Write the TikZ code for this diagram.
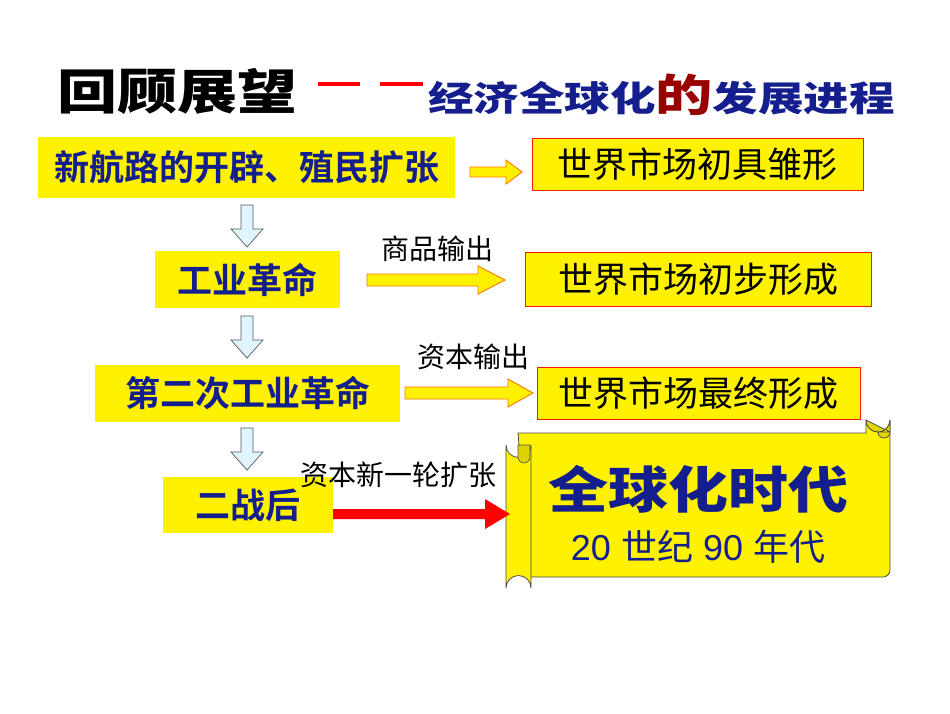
\documentclass[tikz,border=0pt]{standalone}
\usepackage{fontspec}
\setmainfont{Liberation Sans}
\newfontfamily\cjk{Noto Sans CJK SC}
\newfontfamily\cjkb{Noto Sans CJK SC Bold}
\newfontfamily\cjkh{Noto Sans CJK SC Black}
\definecolor{tblue}{RGB}{20,30,140}
\begin{document}
\begin{tikzpicture}[x=1pt,y=-1pt,
  lbox/.style={fill=yellow,draw=none,inner sep=0pt,font=\cjkb\fontsize{35}{35}\selectfont,text=tblue},
  rbox/.style={fill=yellow,draw=red!80!orange,line width=0.8pt,inner sep=0pt,font=\cjk\fontsize{35}{35}\selectfont,text=black},
  bar/.style={fill=yellow,draw=orange!90!red,line width=0.9pt},
  dar/.style={fill=cyan!12,draw=gray!70!black,line width=0.7pt},
  lbl/.style={font=\cjk\fontsize{28}{28}\selectfont}]
\useasboundingbox (0,0) rectangle (950,713);
% title
\node (t1) at (177,91) {\scalebox{1.25}[1]{\cjkh\fontsize{48}{48}\selectfont 回顾展望}};
\draw[red,line width=4pt] (318,84) -- (360,84) (380,84) -- (423,84);
\node[anchor=west,inner sep=0pt] (t2) at (428,95) {\scalebox{1.3}[1]{\cjkh\fontsize{35}{35}\selectfont\color{tblue}经济全球化\textcolor{red!60!black}{\fontsize{44}{44}\selectfont 的}发展进程}};
% left boxes
\node[lbox,minimum width=417pt,minimum height=61pt] (l1) at (246.5,167.5) {新航路的开辟、殖民扩张};
\node[lbox,minimum width=185pt,minimum height=57pt] (l2) at (247.5,279.5) {工业革命};
\node[lbox,minimum width=305pt,minimum height=57pt] (l3) at (247.5,393.5) {第二次工业革命};
\node[lbox,minimum width=170pt,minimum height=56pt] (l4) at (248,505) {二战后};
% right boxes
\node[rbox,minimum width=331pt,minimum height=52pt] (r1) at (697.5,164) {世界市场初具雏形};
\node[rbox,minimum width=346pt,minimum height=54pt] (r2) at (698,279) {世界市场初步形成};
\node[rbox,minimum width=323pt,minimum height=52pt] (r3) at (698.5,393) {世界市场最终形成};
% block arrows (yellow)
\draw[bar] (470,167) -- (506,167) -- (506,160) -- (522,172) -- (506,184) -- (506,177) -- (470,177) -- cycle;
\draw[bar] (367,274) -- (478,274) -- (478,266) -- (505,280) -- (478,294) -- (478,286) -- (367,286) -- cycle;
\draw[bar] (405,387) -- (508,387) -- (508,379) -- (533,393) -- (508,407) -- (508,399) -- (405,399) -- cycle;
% down arrows
\foreach \y [count=\i] in {205,316,428}{
  \draw[dar] (241,\y) -- (253,\y) -- (253,\y+24) -- (263,\y+24) -- (247,\y+42) -- (231,\y+24) -- (241,\y+24) -- cycle;
}
% labels
\node[lbl] (s1) at (437,249) {商品输出};
\node[lbl] (s2) at (473,357) {资本输出};
\node[lbl] (s3) at (398,475) {资本新一轮扩张};
% scroll
\draw[fill=yellow,draw=black!70,line width=0.8pt]
  (518,433) -- (866,433) -- (866,420) arc[start angle=180,end angle=0,radius=12] -- (890,570)
  arc[start angle=0,end angle=90,radius=7] -- (530,577) -- cycle;
\draw[fill=yellow!75!olive,draw=black!70,line width=0.8pt] (866,420) arc[start angle=180,end angle=0,radius=12] -- (890,432) -- (878,432) arc[start angle=0,end angle=-180,radius=-6] -- cycle;
\draw[fill=yellow,draw=black!70,line width=0.8pt] (506,445) arc[start angle=180,end angle=0,radius=12.5] -- (531,588) arc[start angle=0,end angle=-180,radius=12.5] -- cycle;
\draw[fill=yellow!70!olive,draw=black!70,line width=0.6pt] (518,457) arc[start angle=180,end angle=0,radius=6] -- (530,445) -- (518,445) -- cycle;
\node (g1) at (698,489) {\scalebox{1.2}[1]{\cjkh\fontsize{50}{50}\selectfont\color{tblue}全球化时代}};
\node[font=\fontsize{36}{36}\selectfont,text=tblue] (g2) at (698,547) {20 {\cjk 世纪} 90 {\cjk 年代}};
% red arrow
\fill[red] (333,509) -- (485,509) -- (485,499) -- (510,514) -- (485,529) -- (485,519) -- (333,519) -- cycle;
\end{tikzpicture}
\end{document}
